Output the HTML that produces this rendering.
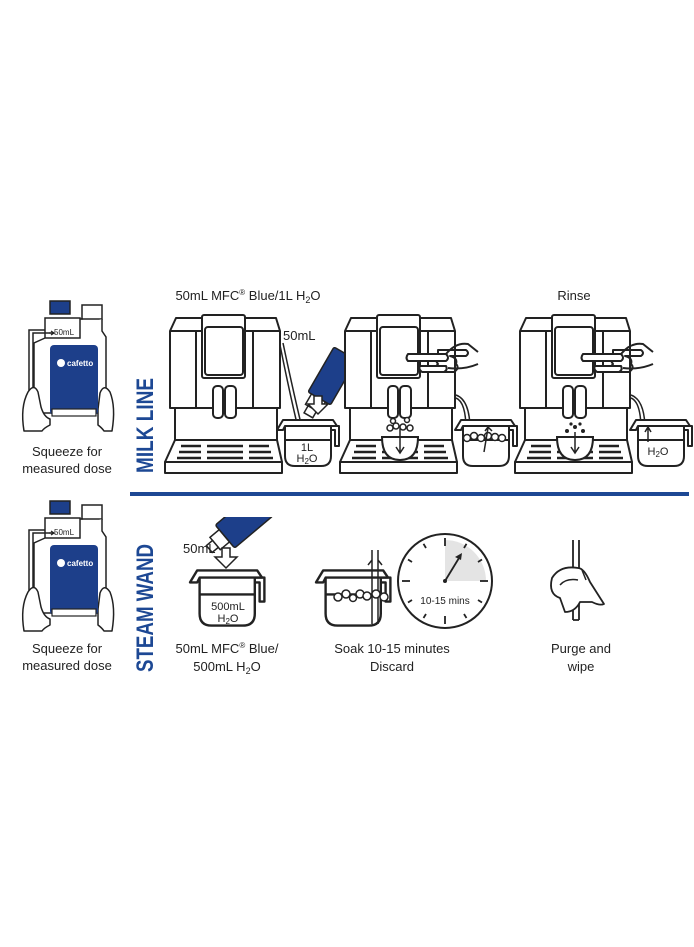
<!DOCTYPE html>
<html><head><meta charset="utf-8"><style>
html,body{margin:0;padding:0;background:#fff}
svg{display:block}
text{font-family:"Liberation Sans",sans-serif;fill:#222}
</style></head><body>
<svg width="694" height="947" viewBox="0 0 694 947" xmlns="http://www.w3.org/2000/svg">
<defs>
<g id="mach" fill="#fff" stroke="#222" stroke-width="2" stroke-linejoin="round">
  <path d="M11,3 L111,3 L115,16 L115,93 L5,93 L5,16 Z"/>
  <line x1="5" y1="16" x2="115" y2="16"/>
  <line x1="31" y1="16" x2="31" y2="93"/>
  <line x1="88" y1="16" x2="88" y2="93"/>
  <rect x="37" y="0" width="43" height="63" rx="2"/>
  <rect x="40" y="12" width="38" height="48" rx="3"/>
  <rect x="10" y="93" width="102" height="32"/>
  <path d="M10,125 L112,125 L117,147 L0,147 Z"/>
  <rect x="0" y="147" width="117" height="11"/>
  <g stroke-width="2.5">
   <line x1="16" y1="131" x2="36" y2="131"/><line x1="42" y1="131" x2="78" y2="131"/><line x1="84" y1="131" x2="104" y2="131"/>
   <line x1="14" y1="137" x2="36" y2="137"/><line x1="42" y1="137" x2="78" y2="137"/><line x1="84" y1="137" x2="106" y2="137"/>
   <line x1="12" y1="143" x2="36" y2="143"/><line x1="42" y1="143" x2="78" y2="143"/><line x1="84" y1="143" x2="108" y2="143"/>
  </g>
</g>
<g id="spouts" fill="#fff" stroke="#222" stroke-width="2">
  <rect x="48" y="71" width="10" height="32" rx="4"/>
  <rect x="60" y="71" width="11" height="32" rx="4"/>
</g>
<g id="jug" fill="#fff" stroke="#222" stroke-width="2" stroke-linejoin="round">
  <path d="M54,8 L62,8 L62,28 L58,28 L58,12 L54,12 Z"/>
  <path d="M8,8 L8,38 Q8,48 18,48 L44,48 Q54,48 54,38 L54,8"/>
  <path d="M0,12 L6,2 L56,2 L60,8 L8,8 L6,12 Z"/>
  <line x1="8" y1="22" x2="54" y2="22"/>
</g>
<g id="hand" fill="#fff" stroke="#222" stroke-width="2" stroke-linejoin="round">
  <path d="M38,-2 Q48,-14 60,-12 L70,-4 M40,12 Q56,14 70,8" fill="none"/>
  <path d="M30,-6 L58,-6 Q62,-3 58,0 L42,0 Q50,2 48,8 Q52,12 46,16 L32,16 Q26,12 30,8 Q26,3 30,-2 Z" fill="none"/>
  <path d="M0,-2 L38,-2 Q42,2 38,5 L0,5 Q-3,2 0,-2 Z"/>
  <path d="M12,10 L38,10 Q40,14 36,16 L14,16 Q10,13 12,10 Z"/>
</g>
<g id="bottle">
  <rect x="50" y="6" width="20" height="13" fill="#1d3f8a" stroke="#222" stroke-width="1.5"/>
  <rect x="82" y="10" width="20" height="14" fill="#fff" stroke="#222" stroke-width="1.5"/>
  <path d="M45,23 L80,23 L80,43 L45,43 Z M80,24 L82,24 L82,23 M102,24 L102,36 L106,42 L106,118 L34,118 L34,48 L45,43" fill="#fff" stroke="#222" stroke-width="1.5"/>
  <path d="M29,115 L29,35 L45,35 M33,115 L33,38 L54,38" fill="none" stroke="#222" stroke-width="1.5"/>
  <path d="M49,38 l5,0 l-3,-2 M54,38 l-3,2" fill="none" stroke="#222" stroke-width="1.2"/>
  <text x="54" y="40" font-size="8">50mL</text>
  <path d="M24,136 Q20,112 28,97 Q34,88 38,97 L41,112 Q44,122 50,124 L50,130 Q44,133 42,136 Z" fill="#fff" stroke="#222" stroke-width="1.5" stroke-linejoin="round"/>
  <path d="M112,136 Q116,112 110,97 Q104,88 100,98 L98,114 L98,130 Q102,133 104,136 Z" fill="#fff" stroke="#222" stroke-width="1.5" stroke-linejoin="round"/>
  <rect x="50" y="50" width="48" height="70" rx="4" fill="#1d3f8a"/>
  <rect x="52" y="114" width="44" height="7" fill="#fff" stroke="#222" stroke-width="1.2"/>
  <circle cx="61" cy="68" r="4" fill="#fff"/>
  <text x="67" y="71" font-size="8" font-weight="bold" style="fill:#fff">cafetto</text>
</g>
</defs>

<!-- Milk line row -->
<use href="#bottle" x="0" y="295"/>
<text x="67" y="456" font-size="13" text-anchor="middle">Squeeze for</text>
<text x="67" y="473" font-size="13" text-anchor="middle">measured dose</text>

<text x="248" y="300" font-size="13" text-anchor="middle">50mL MFC<tspan font-size="8" dy="-5">®</tspan><tspan dy="5"> Blue/1L H</tspan><tspan font-size="9" dy="3">2</tspan><tspan dy="-3">O</tspan></text>
<text x="574" y="300" font-size="13" text-anchor="middle">Rinse</text>

<!-- machine 1 -->
<g transform="translate(165,315)"><use href="#mach"/><use href="#spouts"/></g>
<path d="M280,345 Q290,395 299,432 M283,343 Q294,395 303,432" fill="none" stroke="#222" stroke-width="1.5"/>
<text x="283" y="340" font-size="13">50mL</text>
<g transform="translate(308,392) rotate(-60)">
  <rect x="0" y="0" width="52" height="26" rx="2" fill="#1d3f8a" stroke="#222" stroke-width="1.5"/>
  <rect x="-12" y="4" width="12" height="16" fill="#fff" stroke="#222" stroke-width="1.5"/>
  <rect x="-20" y="7" width="8" height="10" fill="#fff" stroke="#222" stroke-width="1.5"/>
</g>
<path d="M314,396 L314,404 L308,404 L318,414 L328,404 L322,404 L322,396 Z" fill="#fff" stroke="#222" stroke-width="1.5"/>
<use href="#jug" x="277" y="418"/>
<text x="307" y="451" font-size="11" text-anchor="middle">1L</text>
<text x="307" y="462" font-size="11" text-anchor="middle">H<tspan font-size="8" dy="2">2</tspan><tspan dy="-2">O</tspan></text>

<!-- machine 2 -->
<g transform="translate(340,315)"><use href="#mach"/><use href="#spouts"/></g>
<path d="M456,395 Q470,400 470,430 M456,398 Q466,402 466,430" fill="none" stroke="#222" stroke-width="1.5"/>
<use href="#hand" x="408" y="356"/>
<path d="M382,437 Q382,460 400,460 Q418,460 418,437 Z" fill="#fff" stroke="#222" stroke-width="2"/>
<path d="M400,428 L400,452 M396,447 L400,453 L404,447" fill="none" stroke="#222" stroke-width="1.5"/>
<g fill="#fff" stroke="#222" stroke-width="1.5">
<circle cx="390" cy="428" r="3"/><circle cx="396" cy="426" r="3"/><circle cx="403" cy="427" r="3"/><circle cx="410" cy="428" r="3"/><circle cx="393" cy="421" r="2.5"/><circle cx="407" cy="420" r="2.5"/>
</g>
<use href="#jug" x="455" y="418"/>
<g fill="#fff" stroke="#222" stroke-width="1.5">
<circle cx="467" cy="438" r="3.5"/><circle cx="474" cy="436" r="3.5"/><circle cx="481" cy="438" r="3.5"/><circle cx="488" cy="436" r="3.5"/><circle cx="495" cy="437" r="3.5"/><circle cx="502" cy="438" r="3.5"/>
</g>
<path d="M484,452 Q486,440 488,428 M485,431 L488,427 L492,431" fill="none" stroke="#222" stroke-width="1.5"/>

<!-- machine 3 -->
<g transform="translate(515,315)"><use href="#mach"/><use href="#spouts"/></g>
<path d="M631,395 Q645,400 645,430 M631,398 Q641,402 641,430" fill="none" stroke="#222" stroke-width="1.5"/>
<use href="#hand" x="583" y="356"/>
<path d="M557,437 Q557,460 575,460 Q593,460 593,437 Z" fill="#fff" stroke="#222" stroke-width="2"/>
<path d="M575,432 L575,452 M571,447 L575,453 L579,447" fill="none" stroke="#222" stroke-width="1.5"/>
<g fill="#222"><circle cx="567" cy="431" r="2"/><circle cx="575" cy="427" r="2"/><circle cx="583" cy="431" r="2"/><circle cx="571" cy="424" r="1.6"/><circle cx="580" cy="424" r="1.6"/></g>
<use href="#jug" x="630" y="418"/>
<text x="658" y="455" font-size="11" text-anchor="middle">H<tspan font-size="8" dy="2">2</tspan><tspan dy="-2">O</tspan></text>
<path d="M648,442 L648,428 M645,432 L648,427 L651,432" fill="none" stroke="#222" stroke-width="1.5"/>

<!-- Steam wand row -->
<use href="#bottle" x="0" y="495"/>
<text x="67" y="653" font-size="13" text-anchor="middle">Squeeze for</text>
<text x="67" y="670" font-size="13" text-anchor="middle">measured dose</text>

<g transform="translate(232,545) rotate(-40)">
  <rect x="0" y="-26" width="50" height="30" rx="2" fill="#1d3f8a" stroke="#222" stroke-width="1.5"/>
  <rect x="-12" y="-20" width="12" height="16" fill="#fff" stroke="#222" stroke-width="1.5"/>
  <rect x="-20" y="-16" width="8" height="9" fill="#fff" stroke="#222" stroke-width="1.5"/>
</g>
<rect x="195" y="480" width="100" height="37" fill="#fff"/>
<path d="M222,548 L222,557 L215,557 L226,568 L237,557 L230,557 L230,548 Z" fill="#fff" stroke="#222" stroke-width="1.5"/>
<text x="183" y="553" font-size="13">50mL</text>
<g transform="translate(190,568) scale(1.2)"><use href="#jug"/></g>
<text x="228" y="610" font-size="11" text-anchor="middle">500mL</text>
<text x="228" y="622" font-size="11" text-anchor="middle">H<tspan font-size="8" dy="2">2</tspan><tspan dy="-2">O</tspan></text>
<text x="227" y="653" font-size="13" text-anchor="middle">50mL MFC<tspan font-size="8" dy="-5">®</tspan><tspan dy="5"> Blue/</tspan></text>
<text x="227" y="671" font-size="13" text-anchor="middle">500mL H<tspan font-size="9" dy="3">2</tspan><tspan dy="-3">O</tspan></text>

<text transform="translate(153,473) rotate(-90)" font-size="24" font-weight="bold" textLength="95" lengthAdjust="spacingAndGlyphs" style="fill:#1d4894">MILK LINE</text>
<rect x="130" y="492" width="559" height="4" fill="#1d4894"/>
<text transform="translate(153,672) rotate(-90)" font-size="24" font-weight="bold" textLength="128" lengthAdjust="spacingAndGlyphs" style="fill:#1d4894">STEAM WAND</text>

<!-- soak jug -->
<g transform="translate(316,568) scale(1.2)"><use href="#jug"/></g>
<path d="M372,550 L372,624 M378,550 L378,624 M368,565 L372,560 M382,565 L378,560" fill="none" stroke="#222" stroke-width="1.5"/>
<g fill="#fff" stroke="#222" stroke-width="1.5">
<circle cx="338" cy="597" r="4"/><circle cx="346" cy="594" r="4"/><circle cx="353" cy="598" r="3.5"/><circle cx="360" cy="594" r="4"/><circle cx="367" cy="596" r="4"/><circle cx="376" cy="594" r="4"/><circle cx="384" cy="597" r="4"/>
</g>
<!-- clock -->
<circle cx="445" cy="581" r="47" fill="#fff" stroke="#222" stroke-width="2"/>
<path d="M445,581 L445,540 A41,41 0 0 1 486,581 Z" fill="#e4e4e4"/>
<g stroke="#222" stroke-width="1.8">
<line x1="445" y1="538" x2="445" y2="546"/><line x1="445" y1="616" x2="445" y2="624"/><line x1="402" y1="581" x2="410" y2="581"/><line x1="480" y1="581" x2="488" y2="581"/>
<line x1="466.5" y1="543.8" x2="464" y2="548"/><line x1="482" y1="559.5" x2="478" y2="562"/><line x1="482" y1="602.5" x2="478" y2="600"/><line x1="466.5" y1="618" x2="464" y2="614"/>
<line x1="423.5" y1="618" x2="426" y2="614"/><line x1="408" y1="602.5" x2="412" y2="600"/><line x1="408" y1="559.5" x2="412" y2="562"/><line x1="423.5" y1="543.8" x2="426" y2="548"/>
<line x1="445" y1="581" x2="459" y2="558"/>
</g>
<path d="M462,553 L455,557 L461,560 Z" fill="#222"/>
<circle cx="445" cy="581" r="2" fill="#222"/>
<text x="445" y="604" font-size="10" text-anchor="middle">10-15 mins</text>
<text x="392" y="653" font-size="13" text-anchor="middle">Soak 10-15 minutes</text>
<text x="392" y="671" font-size="13" text-anchor="middle">Discard</text>

<!-- purge and wipe -->
<path d="M573,540 L573,620 M579,540 L579,620 M573,620 L579,620" fill="none" stroke="#222" stroke-width="1.8"/>
<path d="M578,568 Q560,565 552,578 Q548,594 560,598 L565,612 Q575,612 580,602 L592,602 Q600,606 604,604 L590,582 Q584,568 578,568 Z" fill="#fff" stroke="#222" stroke-width="1.8" stroke-linejoin="round"/>
<path d="M560,585 Q566,578 578,580 M582,570 L586,580" fill="none" stroke="#222" stroke-width="1.5"/>
<text x="581" y="653" font-size="13" text-anchor="middle">Purge and</text>
<text x="581" y="671" font-size="13" text-anchor="middle">wipe</text>
</svg>
</body></html>
